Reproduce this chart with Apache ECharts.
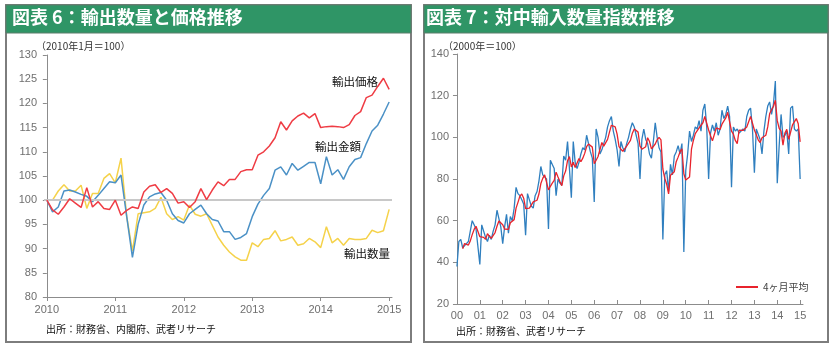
<!DOCTYPE html>
<html><head><meta charset="utf-8">
<script src="https://cdn.jsdelivr.net/npm/echarts@6/dist/echarts.min.js"></script>
<style>html,body{margin:0;padding:0;background:#fff}#c{width:834px;height:347px}</style>
</head><body><div id="c"></div>
<script>
// ---- Left chart: monthly, Jan 2010 - Jan 2015 (2010年1月=100)
const leftYearLabels = ['2010','2011','2012','2013','2014','2015'];
const exportPrice = [
 100, 98, 97.1, 98.6, 100.3, 99.4, 98.5, 102.6, 98.6, 99.7, 98.3, 98.1,
 100, 96.9, 97.9, 98.6, 98.3, 101.7, 102.9, 103.2, 101.6, 102.4, 101.4, 99.4,
 99.7, 98.5, 99.7, 102.4, 100.1, 102.1, 103.8, 103.0, 104.3, 104.3, 105.9, 106.3,
 106.3, 109.3, 110, 111.2, 112.9, 116.2, 114.5, 116.4, 117.4, 118, 117, 117.9,
 115, 115.2, 115.3, 115.2, 115, 115.6, 117.5, 118.3, 121.2, 121.7, 123.5, 125.2, 122.9
];
const exportValue = [
 100, 97.6, 98.6, 101.9, 102.1, 101.7, 101.2, 100.8, 99.7, 101.0, 102.4, 103.8,
 103.6, 105.2, 96.6, 88.2, 95, 99, 100.7, 101.3, 101.6, 100, 97.2, 95.8,
 95.3, 97.2, 98.1, 99, 97.2, 96, 95.7, 93.5, 93.5, 91.9, 92.3, 93.1,
 96.6, 99.2, 101, 102.4, 106.2, 106.9, 105.2, 107.6, 106.2, 107, 107.8, 107.8,
 103.4, 109, 105.2, 106.3, 104.3, 106.9, 108.4, 108.8, 111.7, 114.3, 115.5, 117.8, 120.3
];
const exportVolume = [
 100, 100, 101.9, 103.2, 101.9, 101.9, 103.1, 98.3, 101.4, 101.4, 104.5, 105.5,
 103.6, 108.7, 96.6, 89.5, 97.2, 97.4, 97.6, 98.3, 100.6, 97.2, 96, 96.6,
 95.9, 99, 97.1, 96.7, 97.2, 94.8, 92.4, 90.7, 89.3, 88.3, 87.6, 87.6,
 91.2, 90.4, 91.9, 92.1, 93.7, 91.6, 91.9, 92.4, 90.7, 91, 92.1, 91.4,
 90.2, 94.5, 91.2, 92.1, 90.7, 92.1, 91.9, 91.9, 92.1, 93.8, 93.3, 93.7, 98.1
];
// ---- Right chart: monthly, Jan 2000 - Jan 2015 (2000年=100)
const rightYearLabels = ['00','01','02','03','04','05','06','07','08','09','10','11','12','13','14','15'];
const chinaImport = [
 38, 50, 51, 47, 48, 48, 50, 55, 60, 58, 56, 56,
 39, 58, 55, 52, 50, 53, 51, 55, 58, 65, 61, 57,
 49, 57, 63, 54, 62, 60, 66, 76, 73, 72, 70, 68,
 53, 73, 70, 67, 66, 72, 74, 79, 86, 82, 81, 80,
 56, 89, 87, 85, 72, 80, 78, 77, 91, 89, 98, 85,
 71, 98, 88, 85, 88, 92, 95, 94, 101, 97, 93, 90,
 69, 104, 100, 92, 94, 97, 100, 105, 108, 110, 103, 99,
 94, 86, 98, 95, 93, 97, 100, 104, 107, 105, 101, 97,
 80, 99, 104, 99, 97, 92, 90, 98, 107, 100, 95, 93,
 51, 82, 84, 74, 87, 82, 91, 93, 96, 92, 97, 45,
 84, 92, 103, 98, 101, 105, 104, 108, 103, 113, 116, 105,
 80, 102, 106, 103, 107, 101, 104, 113, 109, 111, 115, 110,
 76, 105, 103, 104, 102, 103, 104, 103, 110, 113, 114, 104,
 83, 104, 104, 99, 92, 103, 110, 115, 117, 111, 116, 127,
 78, 96, 111, 100, 101, 103, 92, 114, 115, 104, 103, 104,
 80
];
// 4ヶ月平均: starts Apr 2000
const chinaImportMA4 = [
 46.5, 49, 48.5, 48.3, 50.3, 53.3, 55.8, 57.3, 57.5,
 52.3, 52.3, 52, 51, 53.8, 52.5, 51.5, 52.3, 54.3, 57.3, 59.8, 60.3,
 58, 56, 56.5, 55.8, 59, 59.8, 60.5, 66, 68.8, 71.8, 72.8, 70.8,
 65.8, 66, 66, 65.8, 69, 68.8, 69.8, 72.8, 77.8, 80.3, 82, 82.3,
 74.8, 76.5, 78, 79.3, 83.3, 81, 78.8, 76.8, 81.5, 83.8, 88.8, 90.8,
 85.8, 88, 85.5, 85.5, 89.8, 88.3, 90, 92.3, 95.5, 96.8, 96.3, 95.3,
 87.3, 89, 90.8, 91.3, 97.5, 95.8, 95.8, 99, 102.5, 105.8, 106.5, 105,
 101.5, 95.5, 94.3, 93.3, 93, 95.8, 96.3, 98.5, 102, 104, 104.3, 102.5,
 95.8, 94.3, 95, 95.5, 99.8, 98, 94.5, 94.3, 96.8, 98.8, 100, 98.8,
 84.8, 80.3, 77.5, 72.8, 81.8, 81.8, 83.5, 88.3, 90.5, 93, 94.5, 82.5,
 79.5, 79.5, 81, 94.3, 98.5, 101.8, 102, 104.5, 105, 107, 110, 109.3,
 103.5, 100.8, 98.3, 97.8, 104.5, 104.3, 103.8, 106.3, 106.8, 109.3, 112, 111.3,
 103, 101.5, 98.5, 97, 103.5, 103, 103.3, 103, 105, 107.5, 110, 110.3,
 103.5, 101.3, 98.8, 97.5, 99.8, 99.5, 101, 105, 111.3, 113.3, 114.8, 117.8,
 108, 104.3, 103, 96.3, 102, 103.8, 99, 102.5, 106, 106.3, 109, 106.5,
 97.8
];

const idx = (arr, off) => arr.map((v, i) => [i + (off || 0), v]);
const JP = '"Noto Sans CJK JP", sans-serif';
const NUM = '"Liberation Sans", Arial, sans-serif';
const axisGray = '#8c8c8c';
const labelGray = '#6f6f6f';

const chart = echarts.init(document.getElementById('c'), null, {renderer: 'canvas'});

function yAxisCommon(gi, min, max, interval) {
  return {
    type: 'value', gridIndex: gi, min, max, interval,
    axisLine: {show: true, lineStyle: {color: axisGray, width: 1}},
    axisTick: {show: true, length: 4, lineStyle: {color: axisGray}},
    axisLabel: {color: labelGray, fontFamily: NUM, fontSize: 11, margin: 7},
    splitLine: {show: false}
  };
}

chart.setOption({
  animation: false,
  backgroundColor: '#fff',
  grid: [
    {left: 44, top: 55, width: 348, height: 242},
    {left: 456, top: 54, width: 347, height: 250}
  ],
  xAxis: [
    {
      type: 'value', gridIndex: 0, min: -0.5, max: 60.5,
      axisLine: {show: true, lineStyle: {color: axisGray}},
      axisTick: {show: true, length: 4, lineStyle: {color: axisGray}, customValues: leftYearLabels.map((_, i) => i * 12)},
      axisLabel: {color: labelGray, fontFamily: NUM, fontSize: 11, margin: 7,
        customValues: leftYearLabels.map((_, i) => i * 12),
        formatter: v => leftYearLabels[Math.round(v / 12)]},
      splitLine: {show: false}
    },
    {
      type: 'value', gridIndex: 1, min: -0.5, max: 181.5,
      axisLine: {show: true, lineStyle: {color: axisGray}},
      axisTick: {show: true, inside: true, length: 4, lineStyle: {color: axisGray}, customValues: rightYearLabels.map((_, i) => i * 12)},
      axisLabel: {color: labelGray, fontFamily: NUM, fontSize: 11, margin: 6,
        customValues: rightYearLabels.map((_, i) => i * 12),
        formatter: v => rightYearLabels[Math.round(v / 12)]},
      splitLine: {show: false}
    }
  ],
  yAxis: [yAxisCommon(0, 80, 130, 5), yAxisCommon(1, 20, 140, 20)],
  legend: {
    data: ['4ヶ月平均'], left: 731, top: 277, icon: 'rect', itemWidth: 22, itemHeight: 2, itemGap: 2,
    textStyle: {fontFamily: JP, fontSize: 10, color: '#444'}
  },
  series: [
    {name: '輸出数量', type: 'line', xAxisIndex: 0, yAxisIndex: 0, data: idx(exportVolume), showSymbol: false,
     lineStyle: {color: '#f5d24a', width: 1.5}, itemStyle: {color: '#f5d24a'}, z: 3,
     markLine: {silent: true, symbol: 'none', label: {show: false}, lineStyle: {color: '#c8c8c8', width: 2, type: 'solid'}, data: [{yAxis: 100}]}},
    {name: '輸出金額', type: 'line', xAxisIndex: 0, yAxisIndex: 0, data: idx(exportValue), showSymbol: false,
     lineStyle: {color: '#4b91c6', width: 1.5}, itemStyle: {color: '#4b91c6'}, z: 4},
    {name: '輸出価格', type: 'line', xAxisIndex: 0, yAxisIndex: 0, data: idx(exportPrice), showSymbol: false,
     lineStyle: {color: '#ef3c44', width: 1.5}, itemStyle: {color: '#ef3c44'}, z: 5},
    {name: '対中輸入数量指数', type: 'line', xAxisIndex: 1, yAxisIndex: 1, data: idx(chinaImport), showSymbol: false,
     lineStyle: {color: '#2f7fbf', width: 1.3}, itemStyle: {color: '#2f7fbf'}, z: 3},
    {name: '4ヶ月平均', type: 'line', xAxisIndex: 1, yAxisIndex: 1, data: idx(chinaImportMA4, 3), showSymbol: false,
     lineStyle: {color: '#e8232c', width: 1.3}, itemStyle: {color: '#e8232c'}, z: 4}
  ],
  graphic: [
    {type: 'rect', shape: {x: 6, y: 5, width: 405, height: 337}, style: {fill: 'none', stroke: '#7d7d7d', lineWidth: 2}, silent: true},
    {type: 'rect', shape: {x: 6, y: 5, width: 405, height: 28}, style: {fill: '#2f9566', stroke: '#5a7d6a', lineWidth: 1}, silent: true},
    {type: 'text', left: 12, top: 8, style: {text: '図表 6：輸出数量と価格推移', fill: '#fff', font: 'bold 18px ' + JP}, silent: true},
    {type: 'rect', shape: {x: 424, y: 5, width: 404, height: 337}, style: {fill: 'none', stroke: '#7d7d7d', lineWidth: 2}, silent: true},
    {type: 'rect', shape: {x: 424, y: 5, width: 404, height: 28}, style: {fill: '#2f9566', stroke: '#5a7d6a', lineWidth: 1}, silent: true},
    {type: 'text', left: 426, top: 8, style: {text: '図表 7：対中輸入数量指数推移', fill: '#fff', font: 'bold 18px ' + JP}, silent: true},
    {type: 'text', left: 36, top: 41, style: {text: '（2010年1月＝100）', fill: '#333', font: '10px ' + JP}, silent: true},
    {type: 'text', left: 443, top: 41, style: {text: '（2000年＝100）', fill: '#333', font: '10px ' + JP}, silent: true},
    {type: 'text', left: 332, top: 76, style: {text: '輸出価格', fill: '#111', font: '11.5px ' + JP}, silent: true},
    {type: 'text', left: 315, top: 141, style: {text: '輸出金額', fill: '#111', font: '11.5px ' + JP}, silent: true},
    {type: 'text', left: 344, top: 248, style: {text: '輸出数量', fill: '#111', font: '11.5px ' + JP}, silent: true},
    {type: 'text', left: 46, top: 324, style: {text: '出所：財務省、内閣府、武者リサーチ', fill: '#111', font: '10px ' + JP}, silent: true},
    {type: 'text', left: 456, top: 326, style: {text: '出所：財務省、武者リサーチ', fill: '#111', font: '10px ' + JP}, silent: true}
  ]
});
</script></body></html>
